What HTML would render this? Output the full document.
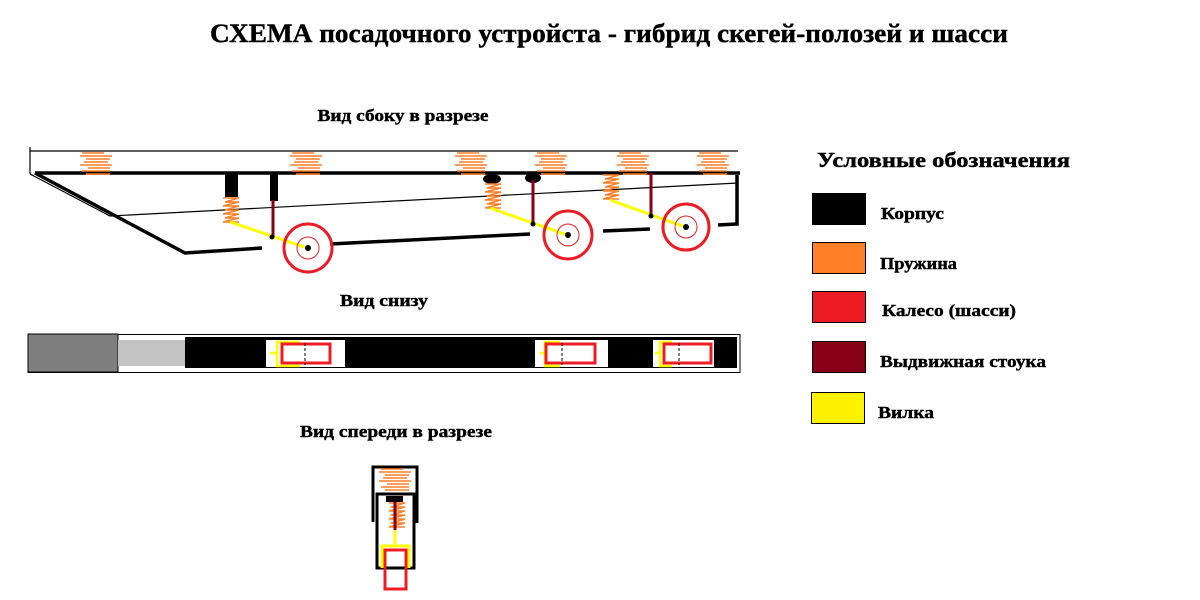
<!DOCTYPE html>
<html><head><meta charset="utf-8"><style>
html,body{margin:0;padding:0;background:#fff;width:1200px;height:600px;overflow:hidden}
svg{display:block}
text{font-family:"Liberation Serif","Noto Serif CJK SC",serif;font-weight:bold;fill:#000;stroke:#000;stroke-width:0.4}
</style></head><body>
<svg width="1200" height="600" viewBox="0 0 1200 600" xmlns="http://www.w3.org/2000/svg">
<defs>
<g id="spr">
<path d="M2 1h22M0 4h32M6 7h24M4 10h24M0 13h32M8 16h22M2 19h28M6 22h24" stroke="#ff7f27" stroke-width="1.6" fill="none"/>
</g>
<g id="vs">
<path d="M0 1h16L2 5h14L0 9h16L2 13h14L0 17h16L2 21h14L0 25h16" stroke="#ff7f27" stroke-width="1.6" fill="none"/>
</g>
</defs>
<text x="609" y="42" font-size="26.5" text-anchor="middle" textLength="798" lengthAdjust="spacingAndGlyphs">СХЕМА посадочного устройста - гибрид скегей-полозей и шасси</text>
<text x="403" y="121" font-size="17" text-anchor="middle" textLength="171" lengthAdjust="spacingAndGlyphs">Вид сбоку в разрезе</text>
<text x="384" y="306" font-size="17" text-anchor="middle" textLength="88" lengthAdjust="spacingAndGlyphs">Вид снизу</text>
<text x="396" y="437" font-size="17" text-anchor="middle" textLength="192" lengthAdjust="spacingAndGlyphs">Вид спереди в разрезе</text>

<!-- side view -->
<path d="M30 151H738M30 147V174M30 174L110 216L738 183" stroke="#000" stroke-width="1.2" fill="none"/>
<path d="M35 173H740" stroke="#000" stroke-width="3.5"/>
<path d="M35 173L185 253L262 248M330 244L530 234M603 231L650 229M718 225L737 224V175" stroke="#000" stroke-width="3.5" fill="none"/>
<use href="#spr" x="80" y="152"/><use href="#spr" x="290" y="152"/>
<use href="#spr" x="455" y="152"/><use href="#spr" x="535" y="152"/>
<use href="#spr" x="617" y="152"/><use href="#spr" x="697" y="152"/>
<!-- gear1 -->
<rect x="225" y="173" width="13" height="24" fill="#000"/>
<use href="#vs" x="223" y="197"/>
<path d="M230 222L307 248" stroke="#ff0" stroke-width="3"/>
<rect x="270" y="173" width="8" height="28" fill="#000"/>
<path d="M273 200V237" stroke="#880015" stroke-width="3"/>
<circle cx="272" cy="237" r="2.5" fill="#000"/>
<circle cx="308" cy="248" r="24" stroke="#ed1c24" stroke-width="3" fill="none"/>
<circle cx="308" cy="248" r="11" stroke="#ed1c24" stroke-width="1" fill="none"/>
<circle cx="308" cy="248" r="3" fill="#000"/>
<!-- gear2 -->
<ellipse cx="492" cy="179" rx="9" ry="5" fill="#000"/>
<use href="#vs" x="485" y="183"/>
<path d="M490 208L567 235" stroke="#ff0" stroke-width="3"/>
<ellipse cx="533" cy="178" rx="8" ry="5" fill="#000"/>
<path d="M533 180V224" stroke="#880015" stroke-width="3"/>
<circle cx="533" cy="224" r="2.5" fill="#000"/>
<circle cx="568" cy="235" r="24" stroke="#ed1c24" stroke-width="3" fill="none"/>
<circle cx="568" cy="235" r="11" stroke="#ed1c24" stroke-width="1" fill="none"/>
<circle cx="568" cy="235" r="3" fill="#000"/>
<!-- gear3 -->
<use href="#vs" x="603" y="174"/>
<path d="M610 200L685 227" stroke="#ff0" stroke-width="3"/>
<path d="M651 173V216" stroke="#880015" stroke-width="3"/>
<circle cx="651" cy="216" r="2.5" fill="#000"/>
<circle cx="686" cy="227" r="23" stroke="#ed1c24" stroke-width="3" fill="none"/>
<circle cx="686" cy="227" r="11" stroke="#ed1c24" stroke-width="1" fill="none"/>
<circle cx="686" cy="227" r="3" fill="#000"/>

<!-- bottom view -->
<rect x="28" y="334.5" width="712" height="38" stroke="#000" stroke-width="1" fill="#fff"/>
<rect x="185" y="337" width="552" height="31" fill="#000"/>
<rect x="28" y="334" width="90" height="38" fill="#7f7f7f" stroke="#000" stroke-width="1"/>
<rect x="118" y="340" width="67" height="26" fill="#c3c3c3"/>
<rect x="266" y="340" width="79" height="27" fill="#fff"/>
<rect x="535" y="340" width="73" height="27" fill="#fff"/>
<rect x="653" y="340" width="61" height="27" fill="#fff"/>
<g fill="none" stroke="#ff0" stroke-width="2.5">
<path d="M300 342H277V366H300M277 353H270"/>
<path d="M560 342H545V366H560M545 353H540"/>
<path d="M672 342H660V366H672M660 353H655"/>
</g>
<g fill="none" stroke="#ed1c24" stroke-width="3">
<rect x="282" y="344" width="48" height="19"/>
<rect x="546" y="344" width="49" height="19"/>
<rect x="664" y="344" width="47" height="19"/>
</g>
<path d="M305 343V365M562 343V365M679 343V365" stroke="#000" stroke-width="1" stroke-dasharray="3 2"/>

<!-- front view -->
<path d="M373 522V467H417V523" stroke="#000" stroke-width="3" fill="none"/>
<use href="#spr" x="379" y="468"/>
<rect x="377" y="494" width="37" height="74" stroke="#000" stroke-width="3" fill="none"/>
<rect x="386" y="496" width="17" height="6" fill="#000"/>
<use href="#vs" x="389" y="502"/>
<path d="M395 502V530" stroke="#880015" stroke-width="3"/>
<path d="M395 530V545M382 568V546H409V568" stroke="#ff0" stroke-width="3" fill="none"/>
<rect x="385" y="550" width="21" height="39" stroke="#ed1c24" stroke-width="3" fill="none"/>

<!-- legend -->
<text x="817" y="167" font-size="21" textLength="253" lengthAdjust="spacingAndGlyphs">Условные обозначения</text>
<rect x="812" y="193" width="54" height="32" fill="#000"/>
<rect x="812.5" y="242.5" width="53" height="31" fill="#ff7f27" stroke="#000"/>
<rect x="812.5" y="291.5" width="53" height="31" fill="#ed1c24" stroke="#000"/>
<rect x="812.5" y="341.5" width="53" height="31" fill="#880015" stroke="#000"/>
<rect x="811.5" y="392.5" width="53" height="31" fill="#fff200" stroke="#000"/>
<text x="881" y="219" font-size="17" textLength="63" lengthAdjust="spacingAndGlyphs">Корпус</text>
<text x="880" y="269" font-size="17" textLength="77" lengthAdjust="spacingAndGlyphs">Пружина</text>
<text x="882" y="316" font-size="17" textLength="134" lengthAdjust="spacingAndGlyphs">Калесо (шасси)</text>
<text x="880" y="367" font-size="17" textLength="166" lengthAdjust="spacingAndGlyphs">Выдвижная стоука</text>
<text x="878" y="418" font-size="17" textLength="56" lengthAdjust="spacingAndGlyphs">Вилка</text>
</svg>
</body></html>
